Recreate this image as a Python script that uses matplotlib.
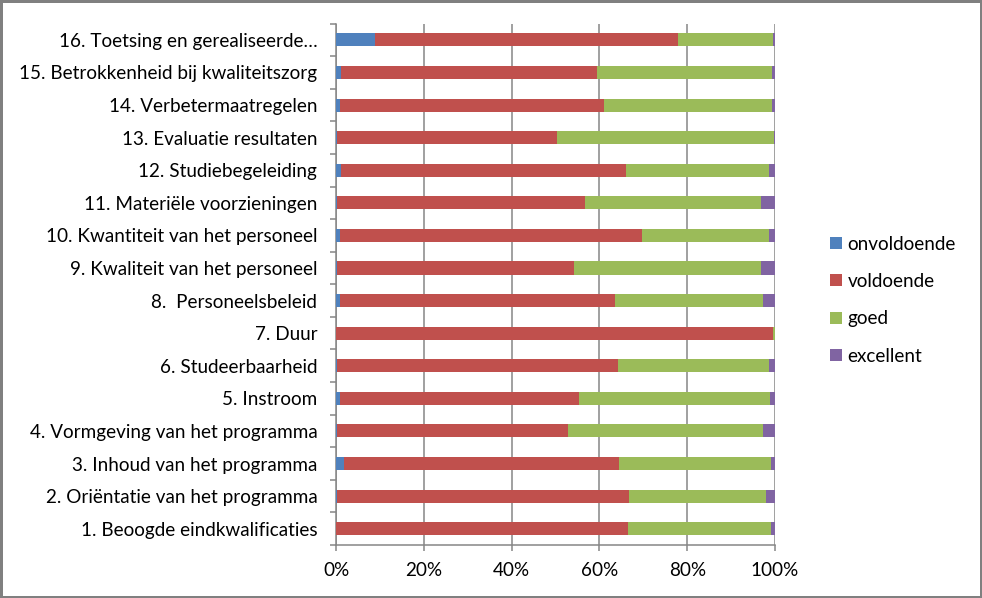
import matplotlib.pyplot as plt
import numpy as np

plt.rcParams['font.family'] = ['Lato', 'DejaVu Sans']

# categories, bottom to top
labels = ['1. Beoogde eindkwalificaties',
          '2. Oriëntatie van het programma',
          '3. Inhoud van het programma',
          '4. Vormgeving van het programma',
          '5. Instroom',
          '6. Studeerbaarheid',
          '7. Duur',
          '8.  Personeelsbeleid',
          '9. Kwaliteit van het personeel',
          '10. Kwantiteit van het personeel',
          '11. Materiële voorzieningen',
          '12. Studiebegeleiding',
          '13. Evaluatie resultaten',
          '14. Verbetermaatregelen',
          '15. Betrokkenheid bij kwaliteitszorg',
          '16. Toetsing en gerealiseerde…']

series_names = ['onvoldoende', 'voldoende', 'goed', 'excellent']

onvoldoende = [0.0, 0.3, 1.7, 0.3, 0.8, 0.3, 0.0, 0.8, 0.3, 0.8, 0.3, 1.1, 0.3, 0.8, 1.1, 8.8]
voldoende   = [66.5, 66.4, 62.7, 52.5, 54.5, 63.9, 99.5, 62.7, 53.9, 68.9, 56.4, 64.9, 50.0, 60.2, 58.3, 69.1]
goed        = [32.6, 31.2, 34.7, 44.5, 43.6, 34.4, 0.5, 33.8, 42.6, 28.9, 40.1, 32.6, 49.5, 38.3, 39.9, 21.6]
excellent   = [0.9, 2.1, 0.9, 2.7, 1.1, 1.4, 0.0, 2.7, 3.2, 1.4, 3.2, 1.4, 0.2, 0.7, 0.7, 0.5]

colors = ['#4F81BD', '#C0504D', '#9BBB59', '#8064A2']

data = np.array([onvoldoende, voldoende, goed, excellent])
data = data / data.sum(axis=0) * 100  # 100% gestapeld

fig = plt.figure(figsize=(9.82, 5.98), dpi=100)
fig.patch.set_edgecolor('#808080')
fig.patch.set_linewidth(2.5)
ax = fig.add_axes([0.3422, 0.0886, 0.447, 0.872])

y = np.arange(len(labels))
left = np.zeros(len(labels))
handles = []
for i in range(4):
    h = ax.barh(y, data[i], left=left, height=0.4, color=colors[i],
                label=series_names[i], zorder=3)
    handles.append(h)
    left += data[i]

ax.set_xlim(0, 100)
ax.set_ylim(-0.5, len(labels) - 0.5)
ax.set_xticks(np.arange(0, 101, 20))
ax.set_xticklabels(['%d%%' % v for v in range(0, 101, 20)])
ax.set_yticks(y)
ax.set_yticklabels(labels)
ax.set_yticks(np.arange(-0.5, len(labels), 1), minor=True)

ax.grid(axis='x', color='#868686', linewidth=1.1, zorder=0)
for s in ['top', 'right']:
    ax.spines[s].set_visible(False)
for s in ['left', 'bottom']:
    ax.spines[s].set_color('#868686')
    ax.spines[s].set_linewidth(1.1)

fs = 13.6
ax.tick_params(axis='y', which='major', length=0, pad=13.5, labelsize=fs, colors='black')
ax.tick_params(axis='y', which='minor', length=4.5, color='#868686', width=1.1)
ax.tick_params(axis='x', length=4.5, color='#868686', width=1.1, labelsize=fs, pad=7.5)

fig.legend(handles=handles, loc='center left', bbox_to_anchor=(0.838, 0.498),
           frameon=False, fontsize=fs, handlelength=0.6, handleheight=0.6,
           handletextpad=0.3, labelspacing=1.07, borderaxespad=0)

fig.savefig('out.png', dpi=100, edgecolor=fig.get_edgecolor())
